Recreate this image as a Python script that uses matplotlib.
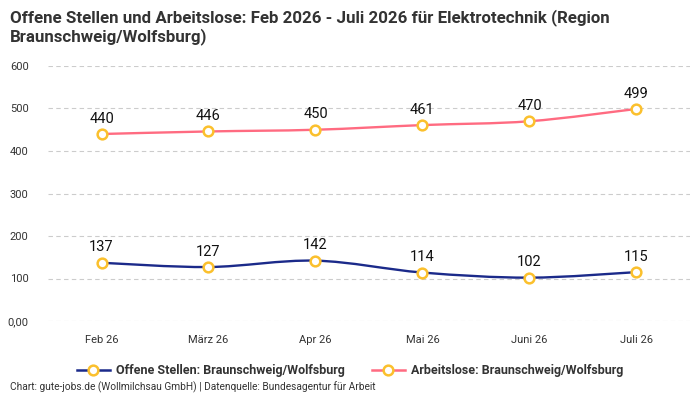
import matplotlib.pyplot as plt
from matplotlib.path import Path
from matplotlib.patches import PathPatch
from matplotlib.lines import Line2D

plt.rcParams['font.family'] = ['Roboto', 'DejaVu Sans']

months = ["Feb 26", "März 26", "Apr 26", "Mai 26", "Juni 26", "Juli 26"]
offene_stellen = [137, 127, 142, 114, 102, 115]
arbeitslose = [440, 446, 450, 461, 470, 499]
yticks = [0, 100, 200, 300, 400, 500, 600]
ytick_labels = ["0,00", "100", "200", "300", "400", "500", "600"]

navy = "#1b2a8a"
pink = "#ff6b81"
marker_col = "#fbc02d"


def spline_path(xs, ys):
    # catmull-rom curve as cubic bezier segments
    pts = list(zip(xs, ys))
    verts = [pts[0]]
    codes = [Path.MOVETO]
    n = len(pts)
    for i in range(n - 1):
        p0 = pts[i - 1] if i > 0 else pts[i]
        p1 = pts[i]
        p2 = pts[i + 1]
        p3 = pts[i + 2] if i + 2 < n else pts[i + 1]
        c1 = (p1[0] + (p2[0] - p0[0]) / 6, p1[1] + (p2[1] - p0[1]) / 6)
        c2 = (p2[0] - (p3[0] - p1[0]) / 6, p2[1] - (p3[1] - p1[1]) / 6)
        verts += [c1, c2, p2]
        codes += [Path.CURVE4] * 3
    return Path(verts, codes)


fig = plt.figure(figsize=(7, 4), dpi=100)
ax = fig.add_axes([0.0686, 0.1975, 0.917, 0.6375])

x = list(range(len(months)))
for vals, col in [(offene_stellen, navy), (arbeitslose, pink)]:
    ax.add_patch(PathPatch(spline_path(x, vals), facecolor="none",
                           edgecolor=col, lw=1.7, zorder=3))
    ax.plot(x, vals, linestyle="none", marker="o", markersize=7,
            markerfacecolor="white", markeredgecolor=marker_col,
            markeredgewidth=1.8, zorder=4)
    for xi, v in zip(x, vals):
        ax.annotate(str(v), (xi, v), xytext=(0, 6), textcoords="offset points",
                    ha="center", va="bottom", fontsize=10.5, color="#111111")

ax.set_xlim(-0.5, 5.5)
ax.set_ylim(0, 600)
ax.set_xticks(x)
ax.set_xticklabels(months)
ax.set_yticks(yticks)
ax.set_yticklabels(ytick_labels)
ax.tick_params(length=0, labelsize=8, colors="#333333", pad=10)
ax.tick_params(axis="y", pad=14)
ax.grid(axis="y", color="#cccccc", linestyle=(0, (4, 3)), lw=0.8)
for s in ax.spines.values():
    s.set_visible(False)

fig.text(0.014, 0.978, "Offene Stellen und Arbeitslose: Feb 2026 - Juli 2026 für Elektrotechnik (Region\nBraunschweig/Wolfsburg)",
         ha="left", va="top", fontsize=12.2, fontweight="bold", color="#333333", linespacing=1.2)

handles = [
    Line2D([], [], color=navy, lw=1.8, marker="o", markersize=7, markerfacecolor="white",
           markeredgecolor=marker_col, markeredgewidth=1.8),
    Line2D([], [], color=pink, lw=1.8, marker="o", markersize=7, markerfacecolor="white",
           markeredgecolor=marker_col, markeredgewidth=1.8),
]
leg = fig.legend(handles, ["Offene Stellen: Braunschweig/Wolfsburg", "Arbeitslose: Braunschweig/Wolfsburg"],
                 loc="center", bbox_to_anchor=(0.5, 0.073), ncol=2, frameon=False,
                 prop={"size": 9, "weight": "bold"}, handlelength=2.6, handletextpad=0.5,
                 columnspacing=2.2)
for t in leg.get_texts():
    t.set_color("#333333")

fig.text(0.014, 0.018, "Chart: gute-jobs.de (Wollmilchsau GmbH) | Datenquelle: Bundesagentur für Arbeit",
         ha="left", va="bottom", fontsize=7.3, color="#333333")

fig.savefig("out.png", dpi=100)
